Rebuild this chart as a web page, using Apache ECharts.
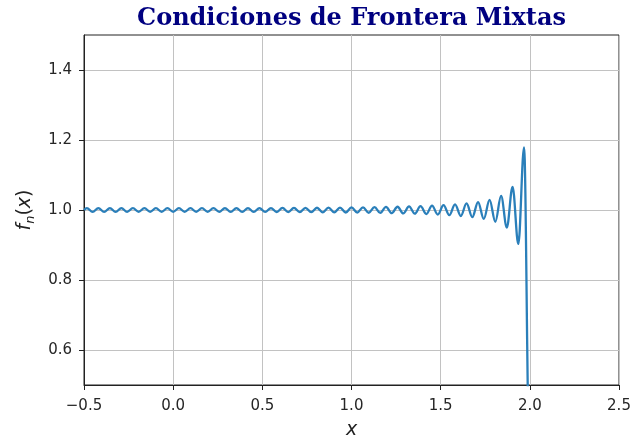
<!DOCTYPE html>
<html>
<head>
<meta charset="utf-8">
<script src="https://cdn.jsdelivr.net/npm/echarts@6/dist/echarts.min.js"></script>
<style>
  html, body { margin: 0; padding: 0; background: #ffffff; }
  #chart { width: 632px; height: 439px; }
</style>
</head>
<body>
<div id="chart"></div>
<script>
const titleText = 'Condiciones de Frontera Mixtas';
const xTicks = [-0.5, 0.0, 0.5, 1.0, 1.5, 2.0, 2.5];
const yTicks = [0.6, 0.8, 1.0, 1.2, 1.4];

// Partial sum f_n(x): crests and troughs of the ripple, left to right,
// followed by the steep fall at the right boundary x = 2.
const xs = [
  -0.5000, -0.4839, -0.4516, -0.4194, -0.3871, -0.3548, -0.3226, -0.2903, -0.2581, -0.2258,
  -0.1935, -0.1613, -0.1290, -0.0968, -0.0645, -0.0323, 0.0000, 0.0323, 0.0645, 0.0968,
  0.1290, 0.1613, 0.1935, 0.2258, 0.2581, 0.2903, 0.3226, 0.3548, 0.3871, 0.4194,
  0.4516, 0.4839, 0.5161, 0.5484, 0.5806, 0.6129, 0.6452, 0.6774, 0.7097, 0.7419,
  0.7742, 0.8065, 0.8387, 0.8710, 0.9032, 0.9355, 0.9677, 1.0000, 1.0323, 1.0645,
  1.0968, 1.1290, 1.1613, 1.1935, 1.2258, 1.2581, 1.2903, 1.3226, 1.3548, 1.3871,
  1.4194, 1.4516, 1.4839, 1.5161, 1.5484, 1.5806, 1.6129, 1.6452, 1.6774, 1.7097,
  1.7419, 1.7742, 1.8065, 1.8387, 1.8710, 1.9032, 1.9355, 1.9677,
  1.9960, 2.0000
];
const ys = [
  1.0000, 1.0055, 0.9945, 1.0054, 0.9946, 1.0053, 0.9947, 1.0053, 0.9948, 1.0052,
  0.9948, 1.0052, 0.9948, 1.0051, 0.9949, 1.0051, 0.9949, 1.0051, 0.9949, 1.0051,
  0.9948, 1.0052, 0.9948, 1.0052, 0.9948, 1.0053, 0.9947, 1.0053, 0.9946, 1.0054,
  0.9945, 1.0055, 0.9944, 1.0056, 0.9943, 1.0058, 0.9941, 1.0060, 0.9940, 1.0062,
  0.9937, 1.0064, 0.9935, 1.0066, 0.9932, 1.0069, 0.9929, 1.0073, 0.9926, 1.0077,
  0.9921, 1.0081, 0.9916, 1.0087, 0.9910, 1.0093, 0.9903, 1.0101, 0.9894, 1.0111,
  0.9883, 1.0123, 0.9870, 1.0138, 0.9852, 1.0159, 0.9829, 1.0187, 0.9795, 1.0227,
  0.9745, 1.0291, 0.9664, 1.0402, 0.9500, 1.0662, 0.9030, 1.1790,
  0.3500, 0.0000
];

const seriesData = xs.map((x, i) => [x, ys[i]]);

const axisColor = '#222222';
const labelColor = '#262626';
const gridColor = '#c2c2c2';

const chart = echarts.init(document.getElementById('chart'), null, { renderer: 'canvas' });

chart.setOption({
  animation: false,
  backgroundColor: '#ffffff',
  graphic: [{
    type: 'text',
    x: 351.5,
    y: 19,
    style: {
      text: titleText,
      align: 'center',
      verticalAlign: 'middle',
      fontFamily: 'DejaVu Serif',
      fontWeight: 'bold',
      fontSize: 24,
      fill: '#000080'
    }
  }],
  grid: {
    left: 84, right: 13, top: 35, bottom: 54,
    containLabel: false,
    outerBoundsMode: 'none',
    show: true, borderColor: axisColor, borderWidth: 1,
    backgroundColor: 'transparent'
  },
  xAxis: {
    type: 'value',
    min: -0.5, max: 2.5, interval: 0.5,
    axisLine: { show: true, onZero: false, lineStyle: { color: axisColor, width: 1 } },
    axisTick: { show: true, length: 5, customValues: xTicks, lineStyle: { color: axisColor } },
    axisLabel: {
      margin: 14, color: labelColor, fontFamily: 'DejaVu Sans', fontSize: 15,
      customValues: xTicks,
      formatter: v => v.toFixed(1).replace('-', '\u2212')
    },
    splitLine: { show: true, lineStyle: { color: gridColor, width: 1 } },
    name: 'x', nameLocation: 'middle', nameGap: 36,
    nameTextStyle: { fontFamily: 'DejaVu Sans', fontStyle: 'italic', fontSize: 19, color: axisColor }
  },
  yAxis: {
    type: 'value',
    min: 0.5, max: 1.5,
    axisLine: { show: true, onZero: false, lineStyle: { color: axisColor, width: 1 } },
    axisTick: { show: true, length: 5, customValues: yTicks, lineStyle: { color: axisColor } },
    axisLabel: {
      margin: 12, color: labelColor, fontFamily: 'DejaVu Sans', fontSize: 15,
      customValues: yTicks,
      formatter: v => v.toFixed(1)
    },
    splitLine: { show: true, lineStyle: { color: gridColor, width: 1 } },
    name: '{i|f}{s|n}{r|(}{i|x}{r|)}',
    nameLocation: 'middle', nameRotate: 90, nameGap: 47,
    nameTextStyle: {
      rich: {
        i: { fontFamily: 'DejaVu Sans', fontStyle: 'italic', fontSize: 19, lineHeight: 24, color: axisColor },
        r: { fontFamily: 'DejaVu Sans', fontSize: 19, lineHeight: 24, color: axisColor },
        s: { fontFamily: 'DejaVu Sans', fontStyle: 'italic', fontSize: 13, lineHeight: 13, verticalAlign: 'bottom', color: axisColor }
      }
    }
  },
  series: [{
    type: 'line',
    data: seriesData,
    showSymbol: false,
    smooth: 0.36,
    smoothMonotone: 'x',
    clip: true,
    lineStyle: { color: '#2a7fba', width: 2.3 },
    itemStyle: { color: '#2a7fba' }
  }]
});
</script>
</body>
</html>
